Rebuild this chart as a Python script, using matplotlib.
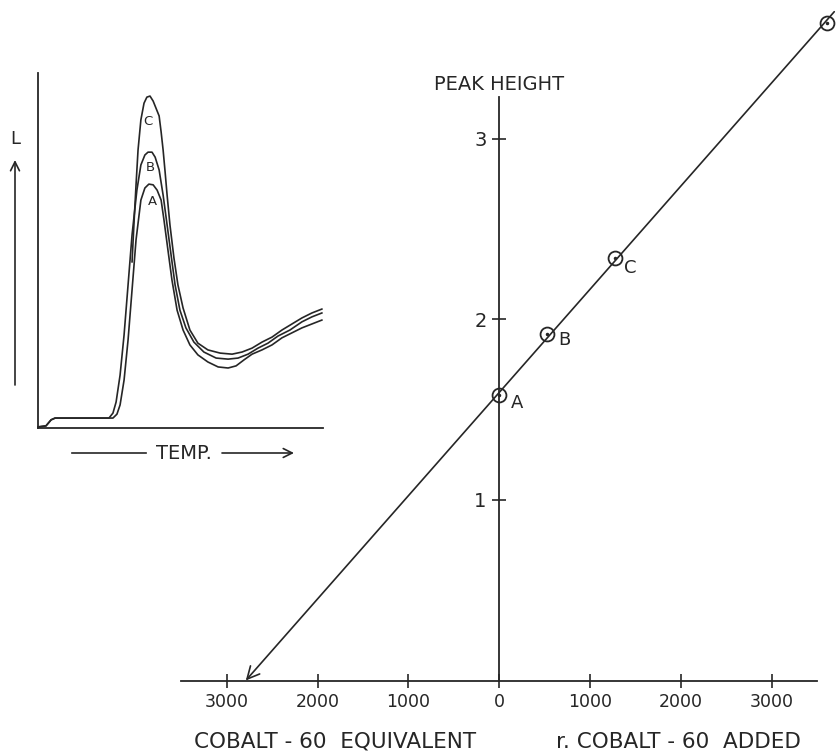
import matplotlib
matplotlib.use("Agg")
import matplotlib.pyplot as plt

# ---------------- data ----------------
# main plot: peak height vs added cobalt-60
point_x = [0, 531, 1281, 3607]
point_y = [1.58, 1.92, 2.34, 3.64]
point_labels = ["A", "B", "C", ""]
line_x = [-2790, 3690]          # extrapolated line, arrow end at left
line_y = [0.0, 3.705]
xtick_vals = [-3000, -2000, -1000, 0, 1000, 2000, 3000]
xtick_labels = ["3000", "2000", "1000", "0", "1000", "2000", "3000"]
ytick_vals = [1, 2, 3]
ytick_labels = ["1", "2", "3"]

# inset: glow curves (temperature vs light output, arbitrary units)
base_t = [0.0, 2.8, 4.6, 6.0]
base_l = [0.3, 0.6, 2.3, 2.8]
curveA_t = [26.3, 27.7, 28.8, 30.2, 31.6, 33.0, 34.4, 36.1, 37.5, 38.9, 40.4, 41.8,
            43.2, 44.2, 45.6, 47.0, 48.8, 50.9, 53.3, 56.1, 59.6, 63.2, 66.7, 69.5,
            72.3, 75.1, 78.6, 82.1, 85.6, 89.1, 92.6, 96.1, 99.6]
curveA_l = [2.8, 3.9, 6.5, 13.5, 24.8, 38.9, 53.0, 64.2, 67.6, 68.7, 68.5, 67.0,
            64.2, 58.6, 50.1, 41.7, 33.2, 27.6, 23.4, 20.6, 18.6, 17.2, 16.9, 17.5,
            19.2, 20.8, 22.0, 23.4, 25.4, 26.8, 28.2, 29.3, 30.4]
curveB_t = [24.9, 26.3, 27.4, 28.8, 30.2, 31.6, 33.0, 34.7, 36.1, 37.5, 38.6, 40.0,
            41.1, 42.5, 43.9, 45.3, 46.7, 48.1, 49.8, 51.9, 54.7, 58.2, 62.5, 66.7,
            70.2, 73.7, 77.2, 80.7, 84.2, 88.4, 92.6, 96.1, 99.6]
curveB_l = [2.8, 4.2, 7.3, 14.9, 26.2, 40.3, 54.4, 67.0, 74.1, 76.9, 77.7, 77.7,
            76.3, 72.7, 65.6, 57.2, 48.7, 40.3, 33.2, 28.2, 24.2, 21.4, 19.7, 19.4,
            19.7, 20.8, 22.5, 23.9, 25.9, 27.6, 29.9, 31.3, 32.4]
curveC_t = [33.0, 33.7, 34.4, 35.1, 36.1, 37.2, 38.2, 39.3, 40.4, 41.4, 42.5, 43.2,
            43.9, 44.6, 45.3, 46.3, 47.7, 49.1, 50.9, 53.3, 56.1, 59.6, 63.9, 68.1,
            71.6, 75.1, 78.6, 82.1, 85.6, 89.1, 92.6, 96.1, 99.6]
curveC_l = [46.8, 58.0, 68.5, 78.3, 86.8, 91.5, 93.2, 93.5, 92.1, 90.1, 87.9, 83.4,
            78.3, 72.1, 65.6, 57.2, 47.9, 40.3, 33.8, 27.6, 23.9, 22.0, 21.1, 20.8,
            21.4, 22.5, 24.2, 25.6, 27.6, 29.3, 31.0, 32.4, 33.5]
curve_names = ["C", "B", "A"]
curve_label_pos = [(38.6, 86.2), (39.3, 73.5), (40.0, 63.7)]

# ---------------- drawing ----------------
INK = "#262626"
W, H = 837, 753
fig = plt.figure(figsize=(W / 100, H / 100), dpi=100)
fig.patch.set_facecolor("white")

# main axes
ax = fig.add_axes([181.3 / W, 1 - 680.5 / H, (817 - 181.3) / W, 676.9 / H])
ax.set_xlim(-3500, 3500)
ax.set_ylim(0, 3.75)
ax.patch.set_alpha(0)
for s in ["top", "right"]:
    ax.spines[s].set_visible(False)
ax.spines["left"].set_position(("data", 0))
ax.spines["left"].set_bounds(0, 3.23)
ax.spines["bottom"].set_bounds(-3500, 3500)
for s in ["left", "bottom"]:
    ax.spines[s].set_color(INK)
    ax.spines[s].set_linewidth(1.3)
ax.set_xticks(xtick_vals)
ax.set_xticklabels(xtick_labels)
ax.set_yticks(ytick_vals)
ax.set_yticklabels(ytick_labels)
ax.tick_params(axis="x", direction="inout", length=9.5, width=1.2, color=INK,
               labelsize=12.5, labelcolor=INK, pad=4)
ax.tick_params(axis="y", direction="inout", length=10, width=1.2, color=INK,
               labelsize=14, labelcolor=INK, pad=4)

# fitted line with arrow to the x-intercept
ax.annotate("", xy=(line_x[0], line_y[0]), xytext=(line_x[1], line_y[1]),
            arrowprops=dict(arrowstyle="->", color=INK, lw=1.2,
                            shrinkA=0, shrinkB=0, mutation_scale=22),
            annotation_clip=False)
ax.plot(point_x, point_y, linestyle="none", marker="o", markersize=10,
        markerfacecolor="none", markeredgecolor=INK, markeredgewidth=1.3,
        clip_on=False)
ax.plot(point_x, point_y, linestyle="none", marker="o", markersize=1.5,
        color=INK, clip_on=False)
label_offsets = [(193, -0.043), (182, -0.036), (162, -0.056)]
for x, y, lab, off in zip(point_x, point_y, point_labels, label_offsets + [(0, 0)]):
    if lab:
        ax.text(x + off[0], y + off[1], lab, fontsize=13, color=INK,
                ha="center", va="center")

ax.text(0, 3.3, "PEAK HEIGHT", fontsize=14, color=INK, ha="center",
        va="center", transform=ax.transData)

# inset axes with glow curves
ins = fig.add_axes([38 / W, 1 - 428 / H, 285 / W, 355 / H])
ins.set_xlim(0, 100)
ins.set_ylim(0, 100)
ins.patch.set_alpha(0)
for s in ["top", "right"]:
    ins.spines[s].set_visible(False)
for s in ["left", "bottom"]:
    ins.spines[s].set_color(INK)
    ins.spines[s].set_linewidth(1.3)
ins.set_xticks([])
ins.set_yticks([])
for t, l in [(base_t + curveA_t, base_l + curveA_l),
             (base_t + [24.9] + curveB_t, base_l + [2.8] + curveB_l),
             (curveC_t, curveC_l)]:
    ins.plot(t, l, color=INK, lw=1.2, clip_on=False)
for name, (tx, ly) in zip(curve_names, curve_label_pos):
    ins.text(tx, ly, name, fontsize=9.5, color=INK, ha="center", va="center")

# overlay in pixel coordinates for annotation text and arrows
ov = fig.add_axes([0, 0, 1, 1])
ov.set_xlim(0, W)
ov.set_ylim(H, 0)
ov.axis("off")
ov.patch.set_alpha(0)
ov.text(15, 139, "L", fontsize=13, color=INK, ha="center", va="center")
ov.annotate("", xy=(15, 160), xytext=(15, 385),
            arrowprops=dict(arrowstyle="->", color=INK, lw=1.2,
                            shrinkA=0, shrinkB=0, mutation_scale=16))
ov.text(184, 453, "TEMP.", fontsize=14, color=INK, ha="center", va="center")
ov.plot([72, 146], [453, 453], color=INK, lw=1.2)
ov.annotate("", xy=(294, 453), xytext=(222, 453),
            arrowprops=dict(arrowstyle="->", color=INK, lw=1.2,
                            shrinkA=0, shrinkB=0, mutation_scale=16))
ov.text(335, 742, "COBALT - 60  EQUIVALENT", fontsize=15.5, color=INK,
        ha="center", va="center")
ov.text(678, 742, "r. COBALT - 60  ADDED", fontsize=15.5, color=INK,
        ha="center", va="center")

fig.savefig("out.png", dpi=100, facecolor="white")
